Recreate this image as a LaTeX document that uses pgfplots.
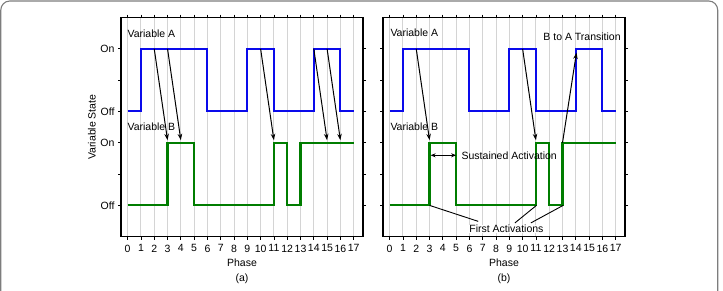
\documentclass[border=0pt]{standalone}
\usepackage{fontspec}
\setmainfont{Liberation Sans}
\usepackage{pgfplots}
\pgfplotsset{compat=1.18}
\usetikzlibrary{arrows.meta}

\definecolor{varA}{RGB}{10,10,235}
\definecolor{varB}{RGB}{0,125,0}
\definecolor{gridgray}{RGB}{212,212,212}
\definecolor{framegray}{RGB}{125,125,125}
\newcommand{\fs}{\fontsize{10.5}{12.6}\selectfont}

\pgfplotsset{
  statepanel/.style={
    scale only axis, width=242pt, height=219.2pt,
    xmin=-0.5, xmax=17.7, ymin=-1, ymax=6,
    xtick={0,...,17}, ytick={0,...,5},
    tick align=outside, major tick length=3pt,
    xmajorgrids,
    grid style={gridgray, line width=0.9pt},
    axis line style={line width=1.1pt},
    tick style={black, line width=0.7pt},
    every tick label/.append style={font=\fs},
    xticklabel style={yshift=-1.5pt},
    label style={font=\fs},
    /pgf/number format/assume math mode=true,
    xlabel=Phase,
    xlabel style={at={(axis description cs:0.5,-0.119)}, anchor=center},
    clip=false,
  },
  stateA/.style={const plot, varA, line width=2.1pt, no marks},
  stateB/.style={const plot, varB, line width=2.1pt, no marks},
}
\tikzset{
  link/.style={black, line width=1pt, -{Stealth[length=6.5pt,width=4.5pt]}},
}

\begin{document}
\begin{tikzpicture}[x=1pt,y=1pt]
\useasboundingbox (0,0) rectangle (723,290);
\draw[framegray, line width=1.1pt, rounded corners=9pt]
  (0.8,-30) -- (0.8,289) -- (717.7,289) -- (717.7,-30);

% ---------- panel (a) ----------
\begin{axis}[statepanel, at={(121pt,53.3pt)}, anchor=south west,
  ylabel=Variable State,
  ylabel style={at={(axis description cs:-0.12,0.5)}, anchor=center},
  yticklabels={Off,,On,Off,,On}]
  % Variable A: Off = 3, On = 5
  \addplot[stateA] coordinates {(0,3) (1,5) (6,3) (9,5) (11,3) (14,5) (16,3) (17,3)};
  % Variable B: Off = 0, On = 2
  \addplot[stateB] coordinates {(0,0) (3,2) (5,0) (11,2) (12,0) (13,2) (17,2)};
  \node[anchor=west, inner sep=0pt, font=\fs] at (axis cs:-0.02,5.49) {Variable A};
  \node[anchor=west, inner sep=0pt, font=\fs] at (axis cs:-0.02,2.51) {Variable B};
  \draw[link] (axis cs:2,5) -- (axis cs:3,2.08);
  \draw[link] (axis cs:3,5) -- (axis cs:4,2.08);
  \draw[link] (axis cs:10,5) -- (axis cs:11,2.08);
  \draw[link] (axis cs:14,5) -- (axis cs:15,2.08);
  \draw[link] (axis cs:15,5) -- (axis cs:16,2.08);
  \node[font=\fs] at (axis description cs:0.5,-0.192) {(a)};
\end{axis}

% ---------- panel (b) ----------
\begin{axis}[statepanel, at={(383pt,53.3pt)}, anchor=south west,
  yticklabels={}]
  \addplot[stateA] coordinates {(0,3) (1,5) (6,3) (9,5) (11,3) (14,5) (16,3) (17,3)};
  \addplot[stateB] coordinates {(0,0) (3,2) (5,0) (11,2) (12,0) (13,2) (17,2)};
  \node[anchor=west, inner sep=0pt, font=\fs] at (axis cs:0.05,5.51) {Variable A};
  \node[anchor=west, inner sep=0pt, font=\fs] at (axis cs:0.05,2.5) {Variable B};
  \node[anchor=west, inner sep=0pt, font=\fs] at (axis cs:11.55,5.38) {B to A Transition};
  \draw[link] (axis cs:2,5) -- (axis cs:3,2.08);
  \draw[link] (axis cs:10,5) -- (axis cs:11,2.08);
  \draw[link] (axis cs:13,2) -- (axis cs:14.05,4.88);
  % sustained activation span
  \draw[black, line width=0.9pt, {Stealth[length=5pt,width=4pt]}-{Stealth[length=5pt,width=4pt]}]
    (axis cs:3.08,1.6) -- (axis cs:5,1.6);
  \node[anchor=west, inner sep=0pt, font=\fs] at (axis cs:5.4,1.6) {Sustained Activation};
  % first activations
  \draw[black, line width=0.9pt] (axis cs:3,0) -- (axis cs:6.66,-0.51);
  \draw[black, line width=0.9pt] (axis cs:11.04,0) -- (axis cs:9.42,-0.56);
  \draw[black, line width=0.9pt] (axis cs:13.05,0) -- (axis cs:10.62,-0.56);
  \node[font=\fs, fill=white, inner sep=0.5pt] at (axis cs:8.78,-0.75) {First Activations};
  \node[font=\fs] at (axis description cs:0.5,-0.192) {(b)};
\end{axis}
\end{tikzpicture}
\end{document}
